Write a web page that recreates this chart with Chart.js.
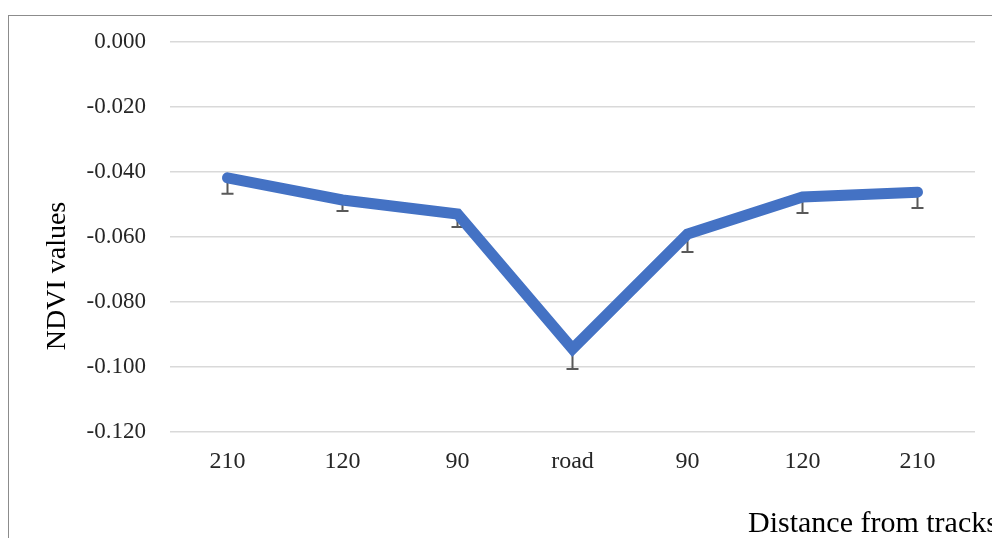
<!DOCTYPE html>
<html>
<head>
<meta charset="utf-8">
<script src="https://cdn.jsdelivr.net/npm/chart.js@4"></script>
<style>
  html, body { margin: 0; padding: 0; overflow: hidden; background: #fff; }
  #wrap { position: relative; width: 992px; height: 538px; overflow: hidden; }
  #frame { position: absolute; left: 8px; top: 15px; width: 1200px; height: 800px; border: 1px solid #8c8c8c; }
  canvas { position: absolute; left: 0; top: 0; }
</style>
</head>
<body>
<div id="wrap">
  <div id="frame"></div>
  <canvas id="myChart" width="992" height="538"></canvas>
</div>
<script>
const distances = ['210', '120', '90', 'road', '90', '120', '210']
const ndvi = [-0.0418, -0.0486, -0.0529, -0.0944, -0.0591, -0.0477, -0.0462]
const errMinus = [0.0049, 0.0034, 0.0040, 0.0062, 0.0055, 0.0049, 0.0049]
const yTicks = [0, -0.02, -0.04, -0.06, -0.08, -0.1, -0.12]

const serif = '"Liberation Serif", "Times New Roman", serif'

// whiskers below each point, drawn under the line
const errorBars = {
    id: 'errorBars',
    beforeDatasetsDraw(chart) {
        const { ctx, scales } = chart
        const meta = chart.getDatasetMeta(0)
        ctx.save()
        ctx.strokeStyle = '#595959'
        ctx.lineWidth = 2
        meta.data.forEach((pt, i) => {
            const x = pt.x
            const y0 = scales.y.getPixelForValue(ndvi[i])
            const y1 = scales.y.getPixelForValue(ndvi[i] - errMinus[i])
            ctx.beginPath()
            ctx.moveTo(x, y0)
            ctx.lineTo(x, y1)
            ctx.moveTo(x - 6, y1)
            ctx.lineTo(x + 6, y1)
            ctx.stroke()
        })
        ctx.restore()
    }
}

const axisTitles = {
    id: 'axisTitles',
    afterDraw(chart) {
        const { ctx } = chart
        ctx.save()
        ctx.fillStyle = '#000'
        ctx.textBaseline = 'middle'
        ctx.textAlign = 'left'
        ctx.font = '30px ' + serif
        ctx.fillText('Distance from tracks', 748, 524)
        ctx.font = '28px ' + serif
        ctx.translate(58, 276)
        ctx.rotate(-Math.PI / 2)
        ctx.textAlign = 'center'
        ctx.fillText('NDVI values', 0, 0)
        ctx.restore()
    }
}

const ctx = document.getElementById('myChart')

new Chart(ctx, {
    type: 'line',
    data: {
        labels: distances,
        datasets: [{
            data: ndvi,
            borderColor: '#4472C4',
            borderWidth: 11,
            borderCapStyle: 'round',
            pointRadius: 0,
            tension: 0,
            fill: false
        }]
    },
    options: {
        responsive: false,
        animation: false,
        layout: { padding: { top: 42, right: 17, left: 0, bottom: 0 } },
        plugins: { legend: { display: false }, tooltip: { enabled: false } },
        scales: {
            x: {
                offset: true,
                grid: { display: false, drawTicks: false },
                border: { display: false },
                ticks: { color: '#262626', font: { family: serif, size: 24 }, padding: 15 },
                afterFit: (s) => { s.height = 106 }
            },
            y: {
                min: -0.12,
                max: 0,
                afterBuildTicks: (s) => { s.ticks = yTicks.map(v => ({ value: v })) },
                grid: { color: '#d9d9d9', lineWidth: 1.5, drawTicks: false },
                border: { display: false },
                ticks: {
                    color: '#262626',
                    font: { family: serif, size: 23 },
                    padding: 24,
                    callback: (v) => v.toFixed(3)
                },
                afterFit: (s) => { s.width = 170 }
            }
        }
    },
    plugins: [errorBars, axisTitles]
})
</script>
</body>
</html>
